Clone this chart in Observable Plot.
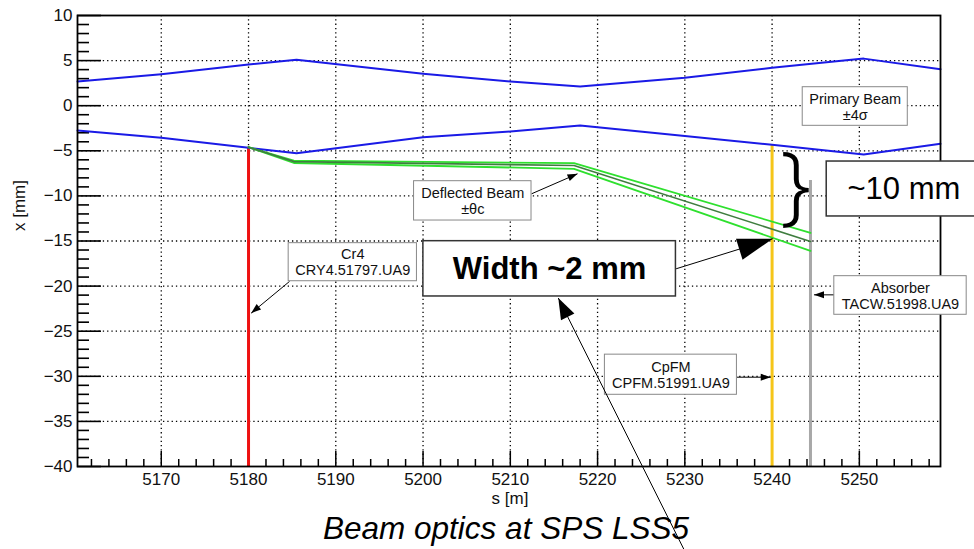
<!DOCTYPE html>
<html>
<head>
<meta charset="utf-8">
<script src="https://cdn.jsdelivr.net/npm/d3@7"></script>
<script src="https://cdn.jsdelivr.net/npm/@observablehq/plot@0.6"></script>
<style>
  html, body { margin: 0; padding: 0; background: #fff; overflow: hidden; }
</style>
</head>
<body>
<div id="chart"></div>
<script>
// ---------- data ----------
// primary beam envelope (+/- 4 sigma)
const sOptics       = [5160.4, 5170, 5180, 5185.5, 5200, 5210, 5218, 5230, 5240, 5250.5, 5259.3];
const upperEnvelope = [2.68, 3.5, 4.57, 5.09, 3.55, 2.68, 2.13, 3.1, 4.2, 5.22, 4.05];
const lowerEnvelope = [-2.75, -3.56, -4.67, -5.27, -3.5, -2.86, -2.2, -3.35, -4.34, -5.41, -4.23];

// deflected beam (+/- theta_c)
const sDeflected      = [5180, 5185.2, 5217.3, 5244.4];
const deflectedUpper  = [-4.6, -6.1, -6.37, -14.1];
const deflectedCenter = [-4.6, -6.2, -6.63, -15.05];
const deflectedLower  = [-4.6, -6.35, -7.0, -16.1];

// elements (vertical markers)
const elementS     = [5180, 5240, 5244.4];
const elementTop   = [-4.6, -4.3, -8.3];
const elementColor = ["#ee1111", "#f5c518", "#a8a8a8"];

// axis ticks
const xMajor = [5170, 5180, 5190, 5200, 5210, 5220, 5230, 5240, 5250];
const xMinor = d3.range(5162, 5259, 2).filter(v => v % 10 !== 0);
const yMajor = [-40, -35, -30, -25, -20, -15, -10, -5, 0, 5, 10];
const yMinor = d3.range(-39, 10, 1).filter(v => v % 5 !== 0);

// annotation labels (boxes in data units)
const labelText = ["Cr4\nCRY4.51797.UA9", "Deflected Beam\n±θc", "Primary Beam\n±4σ", "Absorber\nTACW.51998.UA9", "CpFM\nCPFM.51991.UA9"];
const labelX1 = [5184.6, 5198.97, 5243.51, 5247.13, 5220.84];
const labelX2 = [5199.3, 5212.43, 5255.55, 5262.3, 5235.97];
const labelY1 = [-15.24, -8.37, 2.05, -18.9, -27.6];
const labelY2 = [-19.46, -12.73, -2.23, -23.18, -32.05];

const calloutText = ["Width ~2 mm", "~10 mm"];
const calloutX1 = [5200.04, 5246.26];
const calloutX2 = [5228.98, 5265.5];
const calloutY1 = [-15.02, -6.19];
const calloutY2 = [-21.15, -12.28];
const calloutTextX = [5214.5, 5255.1];

// arrows
const smallArrowFrom = [[5184.7, -19.48], [5212.43, -9.77], [5247.1, -20.97], [5235.97, -30.1]];
const smallArrowTo   = [[5180.3, -23.0], [5217.7, -7.55], [5244.8, -20.97], [5239.85, -30.1]];
const bigArrowFrom   = [[5229.0, -18.08], [5229.9, -49.2]];
const bigArrowTo     = [[5240.07, -14.75], [5215.5, -21.32]];

// ---------- tables ----------
const envelope = [
  ...sOptics.map((s, i) => ({s, x: upperEnvelope[i], k: "up"})),
  ...sOptics.map((s, i) => ({s, x: lowerEnvelope[i], k: "low"}))
];
const deflected = [
  ...sDeflected.map((s, i) => ({s, x: deflectedUpper[i], k: "u"})),
  ...sDeflected.map((s, i) => ({s, x: deflectedLower[i], k: "l"}))
];
const deflectedMid = sDeflected.map((s, i) => ({s, x: deflectedCenter[i]}));
const elements = elementS.map((s, i) => ({s, top: elementTop[i], color: elementColor[i]}));
const labels = labelText.map((t, i) => ({t, x1: labelX1[i], x2: labelX2[i], y1: labelY1[i], y2: labelY2[i]}));
const callouts = calloutText.map((t, i) => ({t, x1: calloutX1[i], x2: calloutX2[i], y1: calloutY1[i], y2: calloutY2[i], tx: calloutTextX[i]}));
const smallArrows = smallArrowFrom.map((f, i) => ({x1: f[0], y1: f[1], x2: smallArrowTo[i][0], y2: smallArrowTo[i][1]}));
const bigArrows = bigArrowFrom.map((f, i) => ({x1: f[0], y1: f[1], x2: bigArrowTo[i][0], y2: bigArrowTo[i][1]}));

const W = 974, H = 549;
const mL = 77, mR = 34, mT = 15, mB = 83;
const frameW = W - mL - mR, frameH = H - mT - mB;
const fmt = d => d < 0 ? "\u2212" + Math.abs(d) : String(d);

const plot = Plot.plot({
  width: W, height: H,
  marginLeft: mL, marginRight: mR, marginTop: mT, marginBottom: mB,
  style: {fontFamily: "Liberation Sans, Arial, sans-serif", background: "#fff", overflow: "visible"},
  x: {domain: [5160.4, 5259.3], axis: null},
  y: {domain: [-40, 10], axis: null},
  marks: [
    // grid
    Plot.ruleX(xMajor, {x: d => d, stroke: "#000", strokeWidth: 1.3, strokeDasharray: "1.3,3"}),
    Plot.ruleY(yMajor.filter(v => v > -40 && v < 10), {y: d => d, stroke: "#000", strokeWidth: 1.3, strokeDasharray: "1.3,3"}),
    // ticks (inside the frame)
    Plot.ruleX(xMajor, {x: d => d, insetTop: frameH - 15, stroke: "#000", strokeWidth: 1.5}),
    Plot.ruleX(xMinor, {x: d => d, insetTop: frameH - 7, stroke: "#000", strokeWidth: 1.5}),
    Plot.ruleY(yMajor, {y: d => d, insetRight: frameW - 24, stroke: "#000", strokeWidth: 1.6}),
    Plot.ruleY(yMinor, {y: d => d, insetRight: frameW - 12, stroke: "#000", strokeWidth: 1.6}),
    // tick labels
    Plot.text(xMajor, {x: d => d, frameAnchor: "bottom", lineAnchor: "middle", dy: 13, text: d => String(d), fontSize: 17, fill: "#111"}),
    Plot.text(yMajor, {y: d => d, frameAnchor: "left", lineAnchor: "middle", dx: -5, textAnchor: "end", text: fmt, fontSize: 17, fill: "#111"}),
    // axis titles
    Plot.text(["s [m]"], {frameAnchor: "bottom", lineAnchor: "middle", dx: 1, dy: 32, fontSize: 17, fill: "#111"}),
    Plot.text(["x [mm]"], {frameAnchor: "left", lineAnchor: "middle", dx: -58, dy: -10, rotate: -90, fontSize: 17, fill: "#111"}),
    Plot.text(["Beam optics at SPS LSS5"], {frameAnchor: "bottom", lineAnchor: "middle", dx: -3, dy: 62, fontSize: 31.5, fontStyle: "italic", fill: "#000"}),
    // element markers
    Plot.ruleX(elements, {x: "s", y1: -40, y2: "top", stroke: "color", strokeWidth: 3}),
    // primary beam envelope
    Plot.line(envelope, {x: "s", y: "x", z: "k", stroke: "#1a1ae6", strokeWidth: 2}),
    // deflected beam
    Plot.line(deflected, {x: "s", y: "x", z: "k", stroke: "#2ee02e", strokeWidth: 1.8}),
    Plot.line(deflectedMid, {x: "s", y: "x", stroke: "#3f7d3f", strokeWidth: 1.6}),
    // frame
    Plot.frame({stroke: "#000", strokeWidth: 1.8}),
    // brace
    Plot.text(["}"], {x: 5242.7, y: -9.0, fontSize: 86, fontFamily: "Noto Sans", fontWeight: 300, fill: "#000"}),
    // small arrows
    Plot.link(smallArrows, {x1: "x1", y1: "y1", x2: "x2", y2: "y2", stroke: "#000", strokeWidth: 1}),
    // label boxes
    Plot.rect(labels, {x1: "x1", x2: "x2", y1: "y1", y2: "y2", fill: "#fff", stroke: "#888", strokeWidth: 1}),
    Plot.text(labels, {x: d => (d.x1 + d.x2) / 2, y: d => (d.y1 + d.y2) / 2, text: "t", fontSize: 14.5, lineHeight: 1.1, fill: "#111"}),
    // big arrows
    Plot.link(bigArrows, {x1: "x1", y1: "y1", x2: "x2", y2: "y2", stroke: "#000", strokeWidth: 1}),
    // callouts
    Plot.rect(callouts, {x1: "x1", x2: "x2", y1: "y1", y2: "y2", fill: "#fff", stroke: "#333", strokeWidth: 1.5}),
    Plot.text(callouts.slice(0, 1), {x: "tx", y: d => (d.y1 + d.y2) / 2, text: "t", fontSize: 31, fontWeight: "bold", fill: "#000"}),
    Plot.text(callouts.slice(1), {x: "tx", y: d => (d.y1 + d.y2) / 2, text: "t", fontSize: 31, fill: "#000"})
  ]
});

// filled arrowheads
const svg = d3.select(plot);
const defs = svg.append("defs");
function marker(id, len, wid) {
  defs.append("marker")
    .attr("id", id)
    .attr("markerUnits", "userSpaceOnUse")
    .attr("markerWidth", 1).attr("markerHeight", 1)
    .attr("refX", 0).attr("refY", 0)
    .attr("orient", "auto")
    .style("overflow", "visible")
    .append("path")
    .attr("d", `M0,0L${-len},${-wid / 2}L${-len},${wid / 2}Z`)
    .attr("fill", "#000");
}
marker("ahSmall", 10, 7);
marker("ahBig0", 35, 22);
marker("ahBig1", 21, 15);
const linkGroups = svg.selectAll('g[aria-label="link"]').nodes();
if (linkGroups[0]) d3.select(linkGroups[0]).selectAll("path").attr("marker-end", "url(#ahSmall)");
if (linkGroups[1]) d3.select(linkGroups[1]).selectAll("path").each(function(d, i) {
  d3.select(this).attr("marker-end", i === 0 ? "url(#ahBig0)" : "url(#ahBig1)");
});

document.getElementById("chart").appendChild(plot);
</script>
</body>
</html>
